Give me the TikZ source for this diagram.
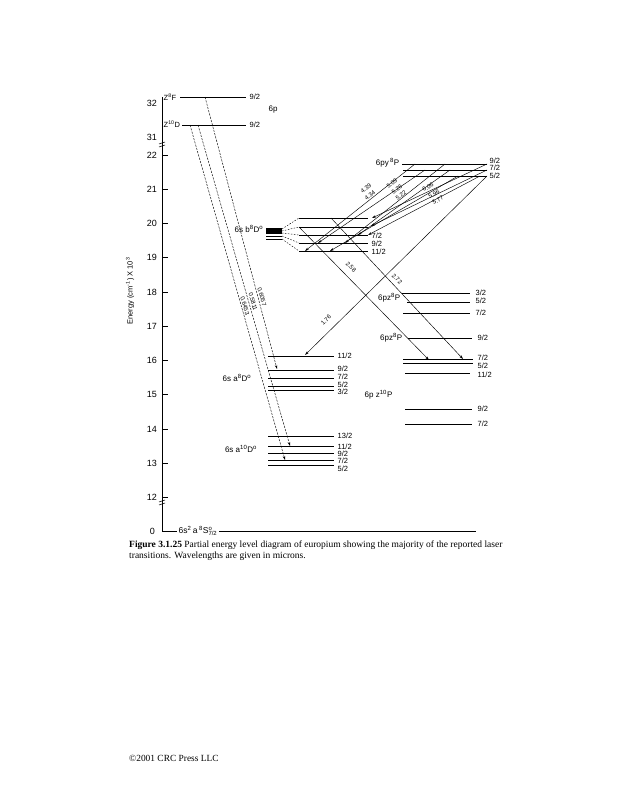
\documentclass[tikz,border=0pt]{standalone}
\usepackage{fontspec}
\setmainfont{Liberation Serif}
\newfontfamily\labfont{Liberation Sans}
\usetikzlibrary{arrows.meta}
\begin{document}
\begin{tikzpicture}[x=1pt,y=-1pt,
 lvl/.style={line width=0.75pt},
 ax/.style={line width=0.8pt},
 trans/.style={line width=0.45pt,-{Stealth[length=4pt,width=2.4pt]}},
 dtrans/.style={trans,dash pattern=on 2.2pt off 1.2pt},
 fan/.style={line width=0.45pt,dash pattern=on 1.5pt off 1.5pt},
 lb/.style={font=\labfont\fontsize{7.5}{8}\selectfont,inner sep=0.5pt,anchor=west},
 tk/.style={font=\labfont\fontsize{9}{10}\selectfont,inner sep=0pt,anchor=east},
 term/.style={font=\labfont\fontsize{8}{9}\selectfont,inner sep=0.5pt},
 wl/.style={font=\labfont\fontsize{6}{7}\selectfont,inner sep=0pt},
]
\useasboundingbox (0,0) rectangle (617,800);
\fill[white] (0,0) rectangle (617,800);

% axis
\coordinate (atop) at (162,97);
\coordinate (abot) at (162,531);
\draw[ax] (atop) -- (abot);
\foreach \v/\y in {22/155,21/189,20/223,19/257,18/292,17/326,16/360,15/394,14/429,13/463,12/497}{
  \draw[ax] (162,\y) -- (168,\y);
  \node[tk] (t\v) at (157,\y) {\v};
}
\node[tk] (t32) at (157,103) {32};
\node[tk] (t31) at (157,137) {31};
\node[tk] (t0) at (155,531) {0};
\draw[line width=0.5pt] (159,144) -- (165,142);
\draw[line width=0.5pt] (159,147) -- (165,145);
\draw[line width=0.5pt] (159,502) -- (165,500);
\draw[line width=0.5pt] (159,505) -- (165,503);
\node[font=\labfont\fontsize{7.5}{8}\selectfont,rotate=90] (ylab) at (130,291) {Energy (cm\textsuperscript{-1}) X 10\textsuperscript{3}};

% 6p levels
\node[lb,anchor=west] (zF) at (163,97) {Z\textsuperscript{8}F};
\node[lb,anchor=west] (zD) at (163,124) {Z\textsuperscript{10}D};
\coordinate (zFl) at (180,97); \coordinate (zFr) at (246,97);
\coordinate (zDl) at (182,125); \coordinate (zDr) at (246,125);
\draw[lvl] (zFl) -- (zFr);
\draw[lvl] (zDl) -- (zDr);
\node[lb] (zF92) at (249,97) {9/2};
\node[lb] (zD92) at (249,125) {9/2};
\node[term] (sixp) at (273,110) {6p};

% a8D levels
\foreach \n/\y/\ly/\t in {a/356/356/{11/2}, b/370/369/{9/2}, c/378/377/{7/2}, d/386/385/{5/2}, e/390/392/{3/2}}{
  \draw[lvl] (268,\y) -- (334,\y);
  \node[lb] (a8\n) at (337,\ly) {\t};
}
\node[term] (a8lab) at (237,378) {6s a\textsuperscript{8}D\textsuperscript{o}};

% a10D levels
\foreach \n/\y/\ly/\t in {a/436/436/{13/2}, b/446/447/{11/2}, c/453/454/{9/2}, d/460/461/{7/2}, e/465/469/{5/2}}{
  \draw[lvl] (268,\y) -- (334,\y);
  \node[lb] (a10\n) at (337,\ly) {\t};
}
\node[term] (a10lab) at (241,449) {6s a\textsuperscript{10}D\textsuperscript{o}};

% b8D levels
\node[term,anchor=east] (b8lab) at (264,229) {6s b\textsuperscript{8}D\textsuperscript{o}};
\foreach \y/\w in {229/1.3,231/1.3,233/1.3,236/0.7,239/0.7}{
  \draw[line width=\w pt] (266,\y) -- (282,\y);
}
\foreach \ya/\yb in {229/218,231/227,233/235,236/243,239/251}{
  \draw[fan] (282,\ya) -- (299,\yb);
  \draw[lvl] (299,\yb) -- (368,\yb);
}
\node[lb] (b72) at (371,236) {7/2};
\node[lb] (b92) at (371,244) {9/2};
\node[lb] (b112) at (371,252) {11/2};

% 6py 8P
\node[term,anchor=east] (pylab) at (400,163) {6py\,\textsuperscript{8}P};
\draw[lvl] (402,164) -- (487,164);
\draw[lvl] (403,170) -- (487,170);
\draw[lvl] (403,176) -- (487,176);
\node[lb] (py92) at (489,161) {9/2};
\node[lb] (py72) at (489,168) {7/2};
\node[lb] (py52) at (489,176) {5/2};

% 6pz 8P upper
\draw[lvl] (402,293) -- (470,293);
\draw[lvl] (407,302) -- (470,302);
\draw[lvl] (403,313) -- (470,313);
\node[lb] (pz32) at (475,293) {3/2};
\node[lb] (pz52) at (475,301) {5/2};
\node[lb] (pz72) at (475,313) {7/2};

% 6pz 8P lower
\node[term,anchor=east] (pzlab2) at (403,338) {6pz\textsuperscript{8}P};
\draw[lvl] (408,338) -- (472,338);
\node[lb] (pz92) at (477,338) {9/2};
\draw[lvl] (403,359) -- (473,359);
\draw[lvl] (403,363) -- (473,363);
\draw[lvl] (405,373) -- (470,373);
\node[lb] (pzl72) at (477,358) {7/2};
\node[lb] (pzl52) at (477,366) {5/2};
\node[lb] (pzl112) at (477,375) {11/2};

% 6p z10P
\node[term,anchor=west] (z10lab) at (364,395) {6p z\textsuperscript{10}P};
\draw[lvl] (405,409) -- (472,409);
\draw[lvl] (405,424) -- (472,424);
\node[lb] (zp92) at (477,409) {9/2};
\node[lb] (zp72) at (477,424) {7/2};

% ground
\coordinate (g0) at (162,531);
\coordinate (g1) at (177,531);
\node[lb,anchor=west,inner sep=1.5pt,font=\labfont\fontsize{8.5}{9}\selectfont] (glab) at (177,531) {6s\textsuperscript{2}\,a\,\textsuperscript{8}S\rlap{\textsuperscript{o}}\textsubscript{7/2}};
\coordinate (g2) at (476,531);
\draw[lvl] (g0) -- (g1);
\draw[lvl] (glab.east) -- (g2);

% transitions Z -> a
\coordinate (s1) at (205,97);  \coordinate (e1) at (277,369);
\coordinate (s2) at (198,125); \coordinate (e2) at (290,446);
\coordinate (s3) at (190,125); \coordinate (e3) at (285,460);
\draw[dtrans] (s1) -- (e1);
\draw[dtrans] (s2) -- (e2);
\draw[dtrans] (s3) -- (e3);
\node[wl,rotate=-74] (w1) at (262,297) {0.6057};
\node[wl,rotate=-74] (w2) at (253,302) {0.5811};
\node[wl,rotate=-74] (w3) at (245,306) {0.6453};

% 6py -> b8D
\coordinate (p1) at (415,164); \coordinate (q1) at (305,251);
\coordinate (p2) at (425,170); \coordinate (q2) at (318,243);
\coordinate (p3) at (445,164); \coordinate (q3) at (345,243);
\coordinate (p4) at (450,170); \coordinate (q4) at (358,235);
\coordinate (p5) at (458,176); \coordinate (q5) at (330,251);
\coordinate (p6) at (487,164); \coordinate (q6) at (372,218);
\coordinate (p7) at (487,170); \coordinate (q7) at (371,226);
\coordinate (p8) at (480,176); \coordinate (q8) at (368,235);
\foreach \i in {1,...,8}{ \draw[trans] (p\i) -- (q\i); }
\node[wl,rotate=37] (l439) at (366,188) {4.39};
\node[wl,rotate=37] (l434) at (370,195) {4.34};
\node[wl,rotate=37] (l509) at (392,183) {5.09};
\node[wl,rotate=37] (l526) at (397,189) {5.26};
\node[wl,rotate=37] (l522) at (401,195) {5.22};
\node[wl,rotate=30] (l606) at (428,187) {6.06};
\node[wl,rotate=30] (l596) at (434,194) {5.96};
\node[wl,rotate=30] (l577) at (438,200) {5.77};

% other transitions
\coordinate (r1) at (487,176); \coordinate (r1e) at (305,355);
\draw[trans] (r1) -- (r1e);
\node[wl,rotate=45] (l176) at (326,320) {1.76};
\coordinate (r2) at (299,227); \coordinate (r2e) at (429,360);
\draw[trans] (r2) -- (r2e);
\node[wl,rotate=-45] (l258) at (351,267) {2.58};
\coordinate (r3) at (331,218); \coordinate (r3e) at (463,359);
\draw[trans] (r3) -- (r3e);
\node[wl,rotate=-45] (l272) at (397,279) {2.72};
\node[term,anchor=east,fill=white,inner sep=0.5pt] (pzlab1) at (401,298) {6pz\textsuperscript{8}P};

% caption
\node[anchor=north west,align=left,inner sep=0pt,font=\fontsize{9.5}{11}\selectfont] (cap) at (129,541)
 {\textbf{Figure 3.1.25} Partial energy level diagram of europium showing the majority of the reported laser\\transitions. Wavelengths are given in microns.};
\node[anchor=west,inner sep=0pt,font=\fontsize{9.4}{10}\selectfont] (foot) at (129,758) {\textcopyright2001 CRC Press LLC};
\end{tikzpicture}
\end{document}
